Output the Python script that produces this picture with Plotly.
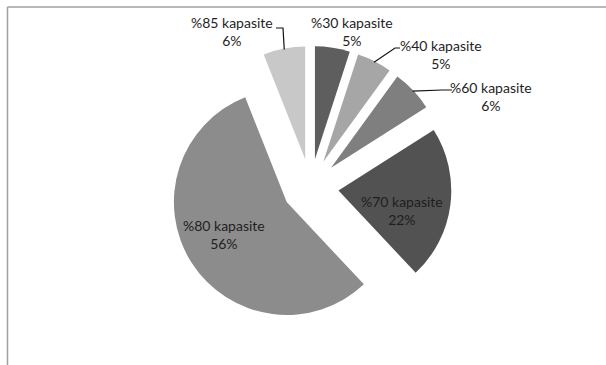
import math
import plotly.graph_objects as go

# Capacity shares
labels = ["%30 kapasite", "%40 kapasite", "%60 kapasite", "%70 kapasite", "%80 kapasite", "%85 kapasite"]
values = [5, 5, 6, 22, 56, 6]
colors = ["#5e5e5e", "#a6a6a6", "#7f7f7f", "#525252", "#8c8c8c", "#c8c8c8"]

W, H = 606, 365
PULL = 0.25
CX, CY = 310.5, 187.0      # pie centre in pixels
R_OUT = 141.0              # radius including the pull

fig = go.Figure(
    go.Pie(
        labels=labels,
        values=values,
        sort=False,
        direction="clockwise",
        rotation=0,
        pull=[PULL] * len(values),
        marker=dict(colors=colors, line=dict(width=0)),
        textposition="none",
        showlegend=False,
        hoverinfo="label+percent",
        domain=dict(x=[(CX - R_OUT) / W, (CX + R_OUT) / W],
                    y=[(H - CY - R_OUT) / H, (H - CY + R_OUT) / H]),
        automargin=False,
    )
)

total = sum(values)


def px(x, y):
    return x / W, 1 - y / H


def slice_edge(i, inset=1.0):
    """Point on the outer arc of slice i at its mid angle (pixels)."""
    start = sum(values[:i]) / total * 360
    mid = math.radians(start + values[i] / total * 180)
    rr = R_OUT - inset
    return CX + rr * math.sin(mid), CY - rr * math.cos(mid)


font = dict(family="Lato", size=14, color="#1e1e1e")

# label centres (pixels) and optional elbow for the leader line
label_pos = {
    0: ((352, 32), None),
    1: ((441, 54), [(400, 48), (395, 48)]),
    2: ((491, 96), [(452, 90), (442, 90)]),
    3: ((402, 210), None),
    4: ((224, 234), None),
    5: ((232, 32), [(276, 28), (283, 28)]),
}

for i, ((lx, ly), elbow) in label_pos.items():
    pct = round(100 * values[i] / total)
    x, y = px(lx, ly)
    fig.add_annotation(x=x, y=y, xref="paper", yref="paper",
                       text=f"{labels[i]}<br>{pct}%", showarrow=False,
                       font=font, xanchor="center", yanchor="middle")
    if elbow:
        ex, ey = slice_edge(i)
        pts = elbow + [(ex, ey)]
        path = "M " + " L ".join(f"{p[0] / W},{1 - p[1] / H}" for p in pts)
        fig.add_shape(type="path", xref="paper", yref="paper", path=path,
                      line=dict(color="#111111", width=1.2))

# Chart frame (only top and left edges fall inside the view)
frame = dict(color="#a0a0a0", width=1.5)
fig.add_shape(type="line", xref="paper", yref="paper",
              x0=7.5 / W, x1=1.0, y0=1 - 7 / H, y1=1 - 7 / H, line=frame)
fig.add_shape(type="line", xref="paper", yref="paper",
              x0=7.5 / W, x1=7.5 / W, y0=0, y1=1 - 7 / H, line=frame)

fig.update_layout(
    width=W,
    height=H,
    margin=dict(l=0, r=0, t=0, b=0),
    paper_bgcolor="white",
    plot_bgcolor="white",
)

fig.write_html("out.html")
